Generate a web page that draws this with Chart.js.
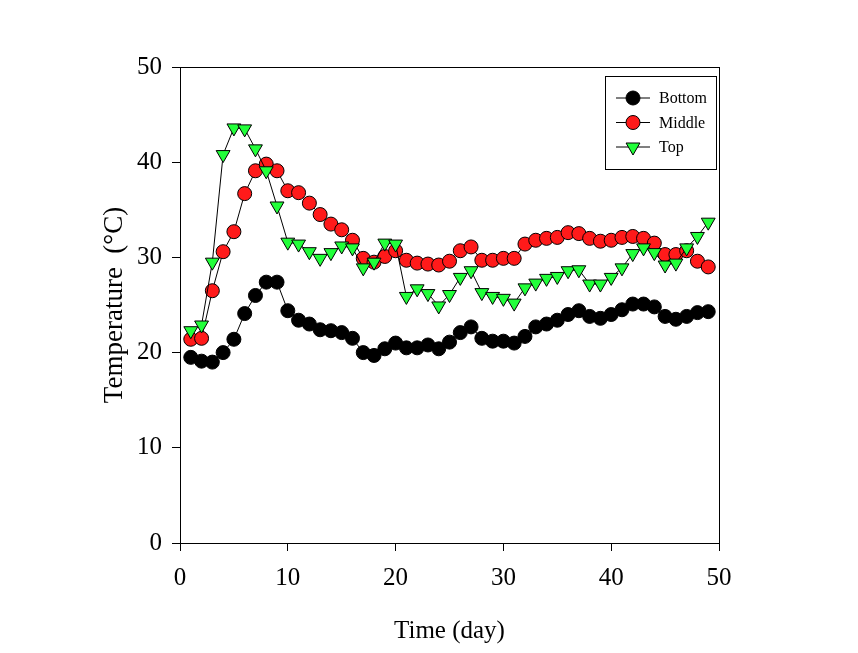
<!DOCTYPE html>
<html>
<head>
<meta charset="utf-8">
<script src="https://cdn.jsdelivr.net/npm/chart.js@4"></script>
<style>
  body { margin: 0; background: #fff; }
  canvas { display: block; }
</style>
</head>
<body>
<canvas id="chart" width="858" height="653"></canvas>
<script>
// days 1..49
const days = [1,2,3,4,5,6,7,8,9,10,11,12,13,14,15,16,17,18,19,20,21,22,23,24,25,26,27,28,29,30,31,32,33,34,35,36,37,38,39,40,41,42,43,44,45,46,47,48,49];

const bottom = [19.5,19.1,19.0,20.0,21.4,24.1,26.0,27.4,27.4,24.4,23.4,23.0,22.4,22.3,22.1,21.5,20.0,19.7,20.4,21.0,
  20.5,20.5,20.8,20.4,21.1,22.1,22.7,21.5,21.2,21.2,21.0,21.7,22.7,23.0,23.4,24.0,24.4,23.8,23.6,24.0,
  24.5,25.1,25.1,24.8,23.8,23.5,23.8,24.2,24.3];

const middle = [21.4,21.5,26.5,30.6,32.7,36.7,39.1,39.8,39.1,37.0,36.8,35.7,34.5,33.5,32.9,31.8,29.9,29.5,30.1,30.7,
  29.7,29.4,29.3,29.2,29.6,30.7,31.1,29.7,29.7,29.9,29.9,31.4,31.8,32.0,32.1,32.6,32.5,32.0,31.7,31.8,
  32.1,32.2,32.0,31.5,30.3,30.3,30.7,29.6,29.0];

const top_ = [22.3,22.9,29.5,40.8,43.6,43.5,41.4,39.1,35.4,31.6,31.4,30.6,29.9,30.5,31.2,31.0,28.9,29.5,31.5,31.4,
  25.9,26.7,26.2,24.9,26.1,27.9,28.6,26.3,25.9,25.7,25.2,26.8,27.3,27.8,28.0,28.6,28.7,27.2,27.2,27.9,
  28.9,30.4,31.0,30.5,29.2,29.4,31.0,32.2,33.7];

const xTicks = [0,10,20,30,40,50];
const yTicks = [0,10,20,30,40,50];

const serif = "'Liberation Serif', 'Times New Roman', serif";

function pts(arr) { return arr.map((v, i) => ({ x: days[i], y: v })); }

const frame = {
  id: 'frame',
  afterDatasetsDraw(chart) {
    const a = chart.chartArea, ctx = chart.ctx;
    ctx.save();
    ctx.strokeStyle = '#000';
    ctx.lineWidth = 1;
    ctx.strokeRect(Math.round(a.left) + 0.5, Math.round(a.top) + 0.5, Math.round(a.right - a.left), Math.round(a.bottom - a.top));
    ctx.restore();
  }
};

const legendBox = {
  id: 'legendBox',
  afterDraw(chart) {
    const ctx = chart.ctx;
    ctx.save();
    ctx.strokeStyle = '#000';
    ctx.lineWidth = 1;
    ctx.strokeRect(605.5, 76.5, 111, 93);
    ctx.font = "16px " + serif;
    ctx.textBaseline = 'middle';
    chart.data.datasets.forEach((ds, i) => {
      const y = 98 + i * 24.5;
      ctx.beginPath();
      ctx.moveTo(616, y);
      ctx.lineTo(650, y);
      ctx.strokeStyle = '#000';
      ctx.stroke();
      ctx.fillStyle = ds.pointBackgroundColor;
      ctx.strokeStyle = '#000';
      Chart.helpers.drawPoint(ctx, {
        pointStyle: ds.pointStyle, radius: ds.pointRadius, rotation: ds.pointRotation || 0, borderWidth: 1
      }, 633, y);
      ctx.fillStyle = '#000';
      ctx.fillText(ds.label, 659, y + 1);
    });
    ctx.restore();
  }
};

function mk(label, arr, color, style, radius, rot, order) {
  return {
    label: label,
    data: pts(arr),
    order: order,
    borderColor: '#000',
    borderWidth: 1,
    pointStyle: style,
    pointRadius: radius,
    pointRotation: rot,
    pointBackgroundColor: color,
    pointBorderColor: '#000',
    pointBorderWidth: 1,
    tension: 0
  };
}

new Chart(document.getElementById('chart'), {
  type: 'line',
  data: {
    datasets: [
      mk('Bottom', bottom, '#000000', 'circle', 7, 0, 2),
      mk('Middle', middle, '#ff1a1a', 'circle', 7, 0, 1),
      mk('Top', top_, '#22ff3a', 'triangle', 8, 180, 0)
    ]
  },
  options: {
    responsive: false,
    animation: false,
    layout: { padding: { left: 0, top: 67, right: 139, bottom: 0 } },
    plugins: { legend: { display: false }, tooltip: { enabled: false } },
    scales: {
      x: {
        type: 'linear', min: 0, max: 50,
        afterFit(s) { s.height = 110; },
        afterBuildTicks(s) { s.ticks = xTicks.map(v => ({ value: v })); },
        grid: { drawOnChartArea: false, tickLength: 8, color: '#000', tickColor: '#000' },
        border: { color: '#000', width: 1 },
        ticks: { color: '#000', font: { family: serif, size: 25 }, padding: 12, maxRotation: 0 },
        title: { display: true, text: 'Time (day)', color: '#000', font: { family: serif, size: 25 }, padding: { top: 0, bottom: 7 } }
      },
      y: {
        type: 'linear', min: 0, max: 50,
        afterFit(s) { s.width = 180; },
        afterBuildTicks(s) { s.ticks = yTicks.map(v => ({ value: v })); },
        grid: { drawOnChartArea: false, tickLength: 8, color: '#000', tickColor: '#000' },
        border: { color: '#000', width: 1 },
        ticks: { color: '#000', font: { family: serif, size: 25 }, padding: 10 },
        title: { display: true, text: 'Temperature  (°C)', color: '#000', font: { family: serif, size: 27 }, padding: { top: 99, bottom: 0 } }
      }
    }
  },
  plugins: [frame, legendBox]
});
</script>
</body>
</html>
